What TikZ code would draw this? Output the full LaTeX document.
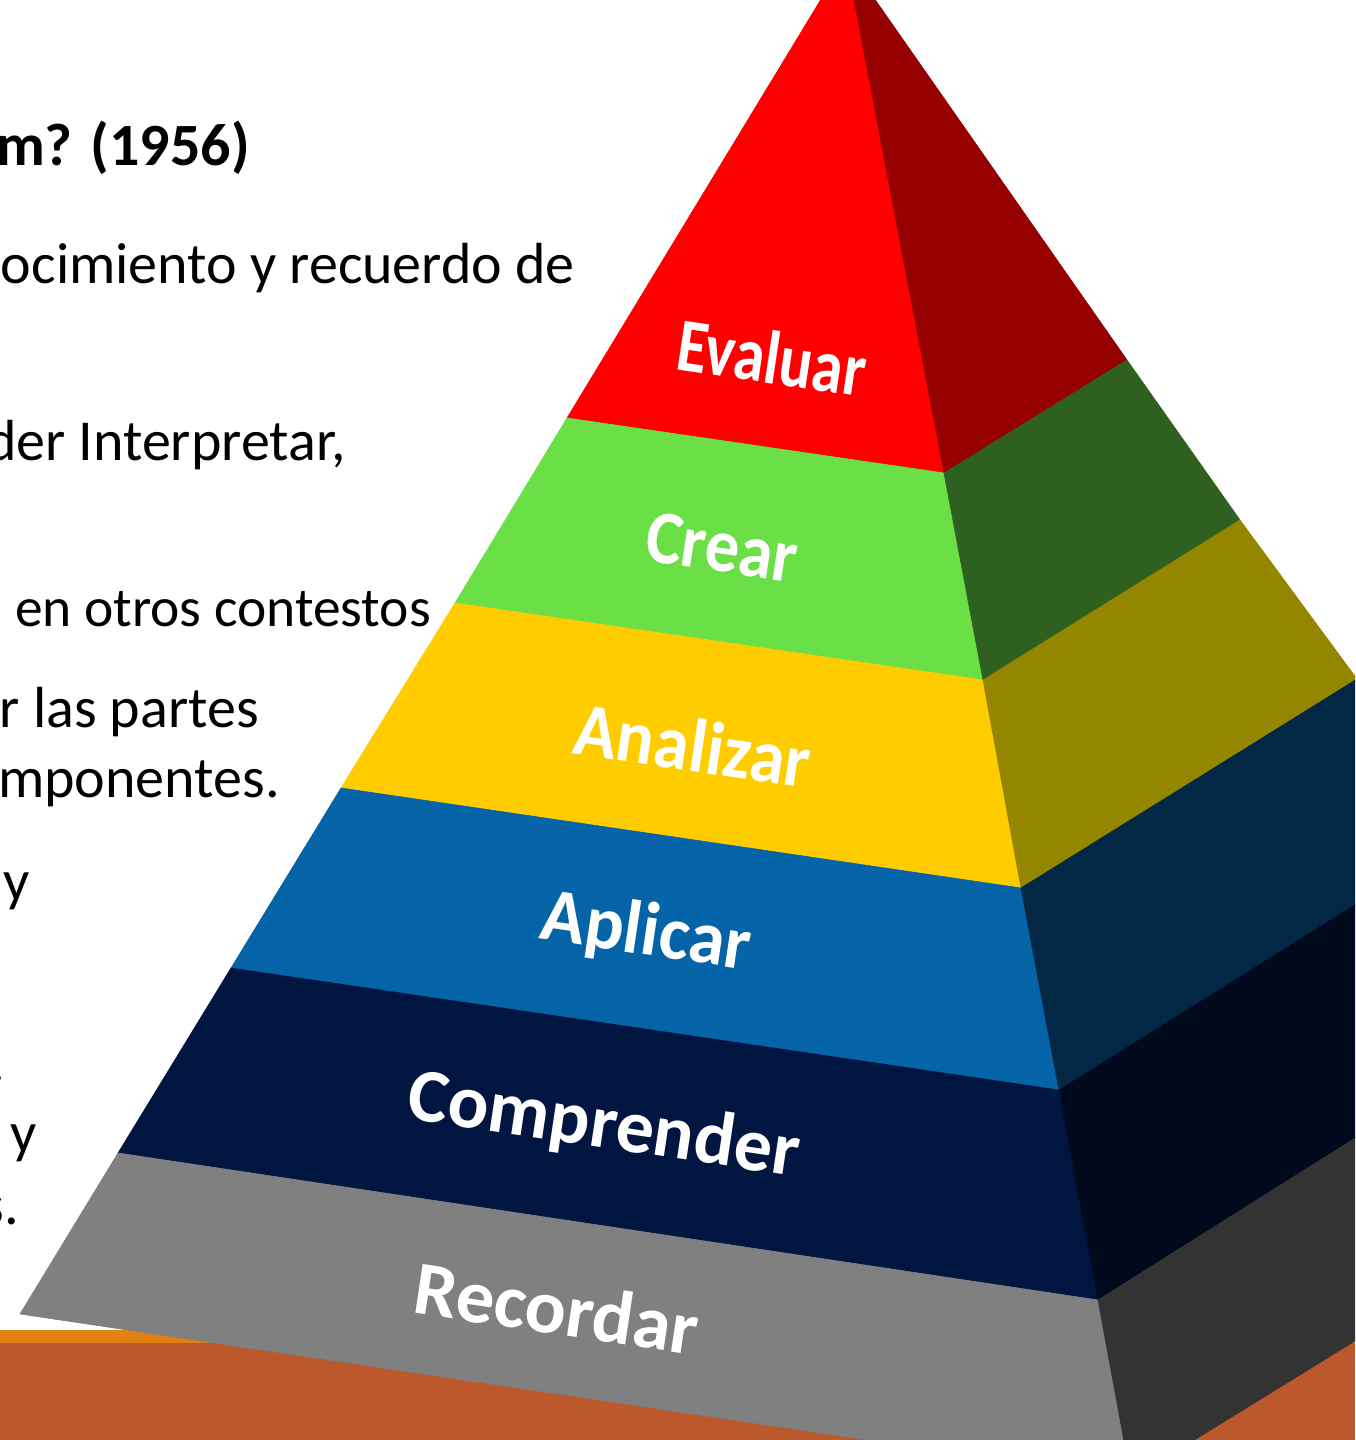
\documentclass[tikz,border=0pt]{standalone}
\usepackage{fontspec}
\setmainfont{Carlito}
\definecolor{fred}{RGB}{255,0,0}
\definecolor{sred}{RGB}{150,0,0}
\definecolor{fgreen}{RGB}{106,223,70}
\definecolor{sgreen}{RGB}{46,97,31}
\definecolor{fyellow}{RGB}{255,204,0}
\definecolor{syellow}{RGB}{149,134,0}
\definecolor{fblue}{RGB}{5,99,168}
\definecolor{sblue}{RGB}{3,40,69}
\definecolor{fnavy}{RGB}{0,22,65}
\definecolor{snavy}{RGB}{0,10,28}
\definecolor{fgray}{RGB}{128,128,128}
\definecolor{sgray}{RGB}{51,51,51}
\definecolor{floorlight}{RGB}{226,128,20}
\definecolor{floorbrown}{RGB}{187,88,44}
\tikzset{
  face/.style={fill=#1, draw=#1, line width=0.6pt, line join=round},
  lab/.style={text=white, font=\fontsize{76}{80}\selectfont\bfseries, inner sep=0pt, rotate=-8.5},
  body/.style={text=black, font=\fontsize{58}{61}\selectfont, inner sep=0pt, anchor=base east},
  head/.style={text=black, font=\fontsize{60}{64}\selectfont\bfseries, inner sep=0pt, anchor=base east}
}
\begin{document}
\begin{tikzpicture}[x=1pt,y=-1pt]
\useasboundingbox (0,0) rectangle (1355,1440);
\clip (0,0) rectangle (1355,1440);
\fill[white] (0,0) rectangle (1355,1440);
% floor
\fill[floorlight] (0,1330) rectangle (1355,1344);
\fill[floorbrown] (0,1343) rectangle (1355,1440);
% pyramid points
\coordinate (A) at (846,-42);
\coordinate (L1) at (567,418);  \coordinate (R1) at (944,473);  \coordinate (E1) at (1127,360);
\coordinate (L2) at (455,603);  \coordinate (R2) at (983,680);  \coordinate (E2) at (1240,520);
\coordinate (L3) at (341,788);  \coordinate (R3) at (1021,888); \coordinate (E3) at (1357,679);
\coordinate (L4) at (231,968);  \coordinate (R4) at (1059,1090);\coordinate (E4) at (1465,836);
\coordinate (L5) at (118,1153); \coordinate (R5) at (1098,1300);\coordinate (E5) at (1579,997);
\coordinate (L6) at (20,1314);  \coordinate (R6) at (1131,1479);\coordinate (E6) at (1681,1140);
% front faces
\path[face=fred]    (A) -- (R1) -- (L1) -- cycle;
\path[face=fgreen]  (L1) -- (R1) -- (R2) -- (L2) -- cycle;
\path[face=fyellow] (L2) -- (R2) -- (R3) -- (L3) -- cycle;
\path[face=fblue]   (L3) -- (R3) -- (R4) -- (L4) -- cycle;
\path[face=fnavy]   (L4) -- (R4) -- (R5) -- (L5) -- cycle;
\path[face=fgray]   (L5) -- (R5) -- (R6) -- (L6) -- cycle;
% side faces
\path[face=sred]    (A) -- (E1) -- (R1) -- cycle;
\path[face=sgreen]  (R1) -- (E1) -- (E2) -- (R2) -- cycle;
\path[face=syellow] (R2) -- (E2) -- (E3) -- (R3) -- cycle;
\path[face=sblue]   (R3) -- (E3) -- (E4) -- (R4) -- cycle;
\path[face=snavy]   (R4) -- (E4) -- (E5) -- (R5) -- cycle;
\path[face=sgray]   (R5) -- (E5) -- (E6) -- (R6) -- cycle;
% labels
\node[lab, xscale=0.82] (evaluar) at (772,357) {Evaluar};
\node[lab, xscale=0.90] (crear) at (722,547) {Crear};
\node[lab, xscale=0.93] (analizar) at (693,745) {Analizar};
\node[lab, xscale=0.96] (aplicar) at (646,934) {Aplicar};
\node[lab] (comprender) at (604,1127) {Comprender};
\node[lab, xscale=1.01] (recordar) at (557,1308) {Recordar};
% left text
\node[head] (h) at (250,165) {m? (1956)};
\node[body] (t1) at (575,283) {ocimiento y recuerdo de};
\node[body] (t2) at (346,460) {der Interpretar,};
\node[body, font=\fontsize{55.5}{60}\selectfont] (t3) at (431,626) {a en otros contestos};
\node[body] (t4) at (259,727) {r las partes};
\node[body] (t5) at (280,797) {mponentes.};
\node[body] (t6) at (30,900) {y};
\node[body] (t7) at (5,1081) {.};
\node[body] (t8) at (37,1152) {y};
\node[body] (t9) at (19,1224) {s.};
\end{tikzpicture}
\end{document}
